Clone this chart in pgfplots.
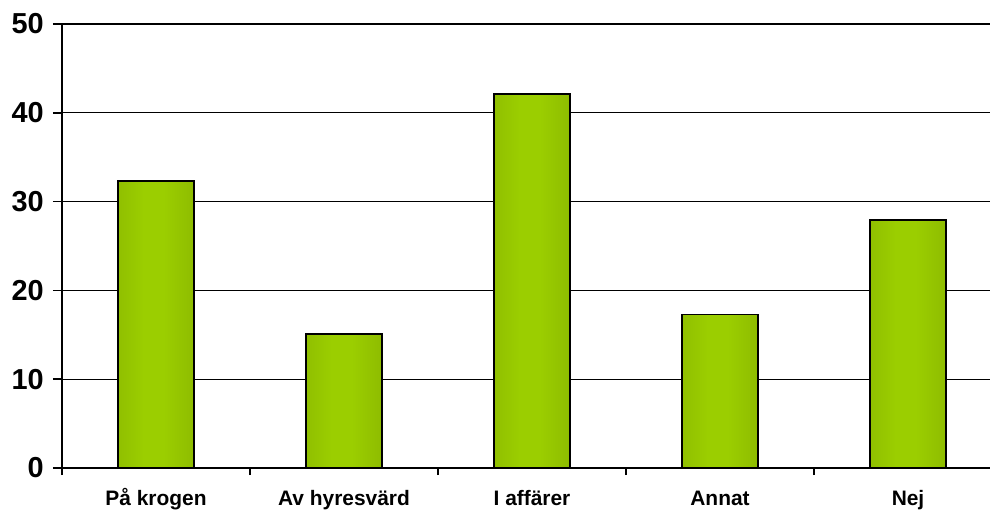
\documentclass[border=0pt]{standalone}
\usepackage{fontspec}
\setmainfont{Liberation Sans}
\usepackage{pgfplots}
\pgfplotsset{compat=1.18}
\definecolor{gA}{RGB}{128,170,0}
\definecolor{gB}{RGB}{155,206,0}
\definecolor{gC}{RGB}{126,166,0}
\pgfdeclarehorizontalshading{barshade}{100bp}{color(0bp)=(gA); color(42bp)=(gB); color(55bp)=(gB); color(100bp)=(gC)}
\pgfplotsset{barsty/.style={draw=black, line width=1.5bp, shading=barshade, bar shift=0pt}}
\begin{document}
\begin{tikzpicture}
\useasboundingbox (-62bp,-44bp) rectangle (928bp,468bp);
\begin{axis}[
  at={(0,0)}, anchor=south west,
  scale only axis,
  width=928bp, height=444bp,
  xmin=-0.5, xmax=4.436,
  ymin=0, ymax=50,
  ytick={0,10,...,50},
  xtick={0,1,2,3,4},
  xticklabels={På krogen, Av hyresvärd, I affärer, Annat, Nej},
  x tick style={draw=none},
  extra x ticks={-0.5,0.5,1.5,2.5,3.5},
  extra x tick labels={},
  extra x tick style={major tick length=7bp, tick align=outside, x tick style={draw=black, line width=1.5bp}},
  ymajorgrids,
  grid style={black, line width=1.3bp},
  axis x line=bottom, axis y line=left,
  axis line style={-, line width=1.6bp},
  y tick style={black, line width=1.5bp},
  major tick length=9bp,
  tick align=outside,
  /pgf/number format/assume math mode=true,
  yticklabel style={font=\fontsize{29}{32}\selectfont\bfseries, inner sep=0pt, xshift=-9bp},
  xticklabel style={font=\fontsize{21}{24}\selectfont\bfseries, anchor=base, yshift=-28bp, inner sep=0pt},
  ybar, bar width=0.405,
]
\addplot[barsty] coordinates {(0,32.3)};
\addplot[barsty] coordinates {(1,15.1)};
\addplot[barsty] coordinates {(2,42.1)};
\addplot[barsty] coordinates {(3,17.3)};
\addplot[barsty] coordinates {(4,27.9)};
\end{axis}
\end{tikzpicture}
\end{document}
